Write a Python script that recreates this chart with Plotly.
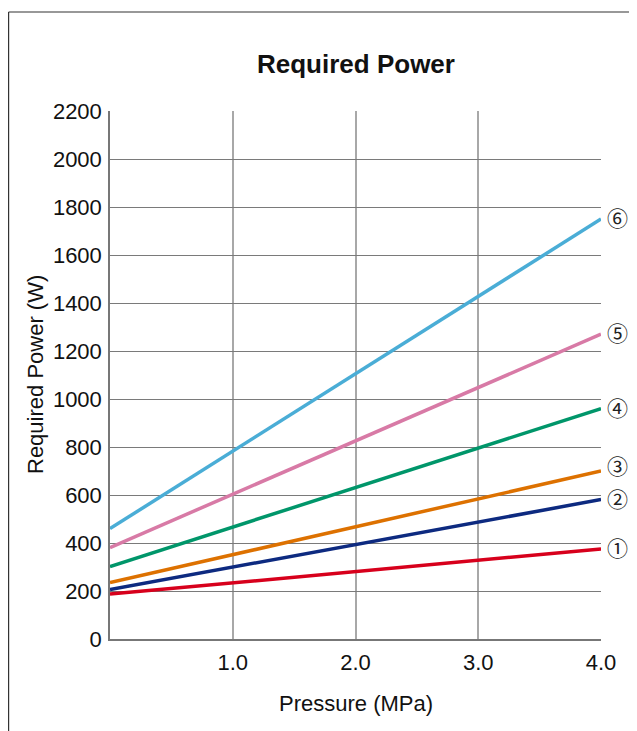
import plotly.graph_objects as go

pressure = [0.0, 4.0]
series_labels = ["①", "②", "③", "④", "⑤", "⑥"]
power_series = [
    [187, 375],
    [206, 581],
    [235, 700],
    [302, 960],
    [381, 1270],
    [460, 1750],
]
colors = ["#d7001c", "#0d2a80", "#dd7100", "#00966a", "#d87aa6", "#4aadd6"]
label_offsets = [0, 0, 4, 0, 0, 0]  # px shift up for crowded labels
y_ticks = list(range(0, 2201, 200))
x_ticks = [1.0, 2.0, 3.0, 4.0]
x_tick_text = ["1.0", "2.0", "3.0", "4.0"]

# page body has an 8px margin; lay out in window pixels then shift
OFF = 8
WIN_W, WIN_H = 637, 731
W, H = WIN_W - OFF, WIN_H - OFF
plot_l, plot_r, plot_t, plot_b = 110 - OFF, 601 - OFF, 111 - OFF, 639 - OFF
ml, mr, mt, mb = plot_l, W - plot_r, plot_t, H - plot_b
pw, ph = plot_r - plot_l, plot_b - plot_t

def px(xw):
    return (xw - OFF - plot_l) / pw

def py(yw):
    return (plot_b - (yw - OFF)) / ph

FONT = "Liberation Sans, Arial, sans-serif"

fig = go.Figure()
for name, vals, col in zip(series_labels, power_series, colors):
    fig.add_trace(go.Scatter(x=pressure, y=vals, mode="lines", name=name,
                             line=dict(color=col, width=3.5), showlegend=False,
                             hoverinfo="skip"))

annotations = []
for name, vals, off in zip(series_labels, power_series, label_offsets):
    annotations.append(dict(x=pressure[-1], y=vals[-1], text=name, showarrow=False,
                            xanchor="left", yanchor="middle", xshift=4, yshift=off + 2,
                            font=dict(family="Noto Sans CJK JP", size=21, color="#222")))

annotations += [
    dict(text="<b>Required Power</b>", xref="paper", yref="paper", x=px(356), y=py(64),
         xanchor="center", yanchor="middle", showarrow=False,
         font=dict(family=FONT, size=26, color="#111")),
    dict(text="Pressure (MPa)", xref="paper", yref="paper", x=px(356), y=py(703),
         xanchor="center", yanchor="middle", showarrow=False,
         font=dict(family=FONT, size=22, color="#111")),
    dict(text="Required Power (W)", xref="paper", yref="paper", x=px(35), y=py(375),
         xanchor="center", yanchor="middle", showarrow=False, textangle=-90,
         font=dict(family=FONT, size=22, color="#111")),
]

frame_color = "#333333"
shapes = [
    dict(type="line", xref="paper", yref="paper",
         x0=px(8.6), x1=px(WIN_W + 5), y0=py(12), y1=py(12),
         line=dict(color=frame_color, width=1.2)),
    dict(type="line", xref="paper", yref="paper",
         x0=px(8.6), x1=px(8.6), y0=py(12), y1=py(WIN_H + 5),
         line=dict(color=frame_color, width=1.2)),
]

fig.update_layout(
    width=W, height=H,
    margin=dict(l=ml, r=mr, t=mt, b=mb),
    paper_bgcolor="white", plot_bgcolor="white",
    font=dict(family=FONT, color="#111", size=22),
    annotations=annotations,
    shapes=shapes,
    xaxis=dict(range=[0, 4], tickvals=x_ticks, ticktext=x_tick_text,
               showgrid=True, gridcolor="#a8a8a8", gridwidth=2,
               showline=True, linecolor="#777", linewidth=1.5,
               ticks="", zeroline=False, tickfont=dict(size=22), ticklabelstandoff=3,
               fixedrange=True),
    yaxis=dict(range=[0, 2200], tickvals=y_ticks,
               showgrid=True, gridcolor="#7a7a7a", gridwidth=1,
               showline=True, linecolor="#777", linewidth=1.5,
               ticks="", zeroline=False, tickfont=dict(size=22), ticklabelstandoff=2,
               fixedrange=True),
)

fig.write_html("out.html")
